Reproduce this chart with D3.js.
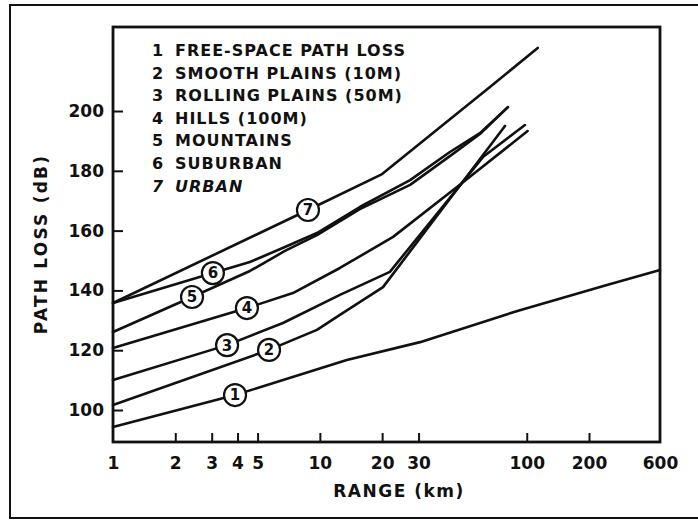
<!DOCTYPE html>
<html>
<head>
<meta charset="utf-8">
<script src="https://cdn.jsdelivr.net/npm/d3@7"></script>
<style>
  html, body { margin: 0; padding: 0; background: #fff; }
  svg { display: block; }
  text { font-family: "DejaVu Sans", sans-serif; font-weight: bold; fill: #111; }
</style>
</head>
<body>
<svg id="chart" width="698" height="521"></svg>
<script>
// Legend entries, in curve order 1..7
const seriesNames = [
  "FREE-SPACE PATH LOSS",
  "SMOOTH PLAINS (10M)",
  "ROLLING PLAINS (50M)",
  "HILLS (100M)",
  "MOUNTAINS",
  "SUBURBAN",
  "URBAN"
];

// Each curve: [range (km), path loss (dB)]; vertex 1 carries the numbered marker
const freeSpace    = [[1, 94.3], [3.89, 105.0], [13.5, 116.7], [30.5, 122.7], [92.7, 133.4], [264, 141.8], [600, 146.8]];
const smoothPlains = [[1, 101.7], [5.68, 120.1], [9.68, 126.8], [12.5, 131.8], [20.2, 141.1], [78.5, 195.0]];
const rollingPlains= [[1, 110.0], [3.56, 121.7], [6.63, 129.1], [12.5, 138.5], [21.8, 146.2], [61.4, 184.6], [98, 195.3]];
const hills        = [[1, 120.7], [4.44, 134.1], [7.41, 139.1], [12.5, 147.5], [22.6, 157.9], [46.0, 174.6], [101, 193.3]];
const mountains    = [[1, 126.1], [2.41, 137.8], [4.59, 146.5], [6.78, 153.2], [9.68, 158.5], [15.6, 167.2], [27.3, 175.3], [42.5, 184.9], [59.4, 192.3], [81.1, 201.3]];
const suburban     = [[1, 135.8], [3.04, 145.8], [4.59, 149.5], [6.78, 154.5], [9.68, 159.2], [15.6, 167.9], [27.3, 176.9], [42.5, 186.3], [59.4, 192.6], [81.1, 201.3]];
const urban        = [[1, 135.8], [8.76, 166.9], [20, 178.9], [38.1, 194.6], [66.4, 208.0], [113, 221.1]];

const curves = [freeSpace, smoothPlains, rollingPlains, hills, mountains, suburban, urban];

// Axis ticks
const xTicks = [1, 2, 3, 4, 5, 10, 20, 30, 100, 200, 600];
const yTicks = [100, 120, 140, 160, 180, 200];

const svg = d3.select("#chart");
const W = 698, H = 521;
const plot = { left: 113, right: 660, top: 27, bottom: 442 };

// Range axis: logarithmic, with the last interval compressed to end at 600 km
const x = d3.scaleLog()
  .domain([1, 200, 600])
  .range([plot.left, 589, plot.right]);
const y = d3.scaleLinear()
  .domain([89.3, 228.1])
  .range([plot.bottom, plot.top]);

const ink = "#111";

// Outer border (open on the right side)
svg.append("path")
  .attr("d", `M${W},5 L10,5 L10,518 L${W},518`)
  .attr("fill", "none")
  .attr("stroke", ink)
  .attr("stroke-width", 2);

// Plot frame
svg.append("rect")
  .attr("x", plot.left).attr("y", plot.top)
  .attr("width", plot.right - plot.left)
  .attr("height", plot.bottom - plot.top)
  .attr("fill", "none")
  .attr("stroke", ink)
  .attr("stroke-width", 2.8);

// Bottom axis: inward ticks
const xAxis = d3.axisBottom(x)
  .tickValues(xTicks)
  .tickFormat(d3.format("d"))
  .tickSizeInner(-9)
  .tickSizeOuter(0)
  .tickPadding(15);
const gx = svg.append("g")
  .attr("transform", `translate(0,${plot.bottom})`)
  .call(xAxis);
gx.select(".domain").remove();
gx.selectAll(".tick line")
  .attr("stroke", ink).attr("stroke-width", 2)
  .filter(d => d === 1 || d === 600).remove();
gx.selectAll(".tick text")
  .attr("font-size", 17)
  .attr("fill", ink)
  .attr("font-family", "DejaVu Sans")
  .attr("font-weight", "bold");

// Left axis: inward ticks
const yAxis = d3.axisLeft(y)
  .tickValues(yTicks)
  .tickFormat(d3.format("d"))
  .tickSizeInner(-10)
  .tickSizeOuter(0)
  .tickPadding(9);
const gy = svg.append("g")
  .attr("transform", `translate(${plot.left},0)`)
  .call(yAxis);
gy.select(".domain").remove();
gy.selectAll(".tick line").attr("stroke", ink).attr("stroke-width", 2);
gy.selectAll(".tick text")
  .attr("font-size", 17)
  .attr("fill", ink)
  .attr("font-family", "DejaVu Sans")
  .attr("font-weight", "bold");

// Axis titles
svg.append("text")
  .attr("x", 399).attr("y", 497)
  .attr("text-anchor", "middle")
  .attr("font-size", 17)
  .attr("letter-spacing", 1.5)
  .text("RANGE (km)");

svg.append("text")
  .attr("transform", "translate(47,244) rotate(-90)")
  .attr("text-anchor", "middle")
  .attr("font-size", 17)
  .attr("letter-spacing", 2.2)
  .text("PATH LOSS (dB)");

// Legend
const legend = svg.append("g");
seriesNames.forEach((name, i) => {
  const row = legend.append("g")
    .attr("transform", `translate(0,${56 + i * 22.6})`)
    .attr("font-style", name === "URBAN" ? "italic" : "normal");
  row.append("text")
    .attr("x", 152).attr("y", 0)
    .attr("font-size", 16)
    .text(String(i + 1));
  row.append("text")
    .attr("x", 175).attr("y", 0)
    .attr("font-size", 16)
    .attr("letter-spacing", 1)
    .text(name);
});

// Curves
const line = d3.line()
  .x(d => x(d[0]))
  .y(d => y(d[1]));

svg.append("g")
  .selectAll("path")
  .data(curves)
  .join("path")
  .attr("d", line)
  .attr("fill", "none")
  .attr("stroke", ink)
  .attr("stroke-width", 2.6)
  .attr("stroke-linejoin", "round")
  .attr("stroke-linecap", "round");

// Numbered markers sitting on each curve
const markers = svg.append("g")
  .selectAll("g")
  .data(curves.map((c, i) => ({ p: c[1], n: i + 1 })))
  .join("g")
  .attr("transform", d => `translate(${x(d.p[0])},${y(d.p[1])})`);
markers.append("circle")
  .attr("r", 11)
  .attr("fill", "#fff")
  .attr("stroke", ink)
  .attr("stroke-width", 2.2);
markers.append("text")
  .attr("text-anchor", "middle")
  .attr("dy", "0.36em")
  .attr("font-size", 15)
  .text(d => d.n);
</script>
</body>
</html>
